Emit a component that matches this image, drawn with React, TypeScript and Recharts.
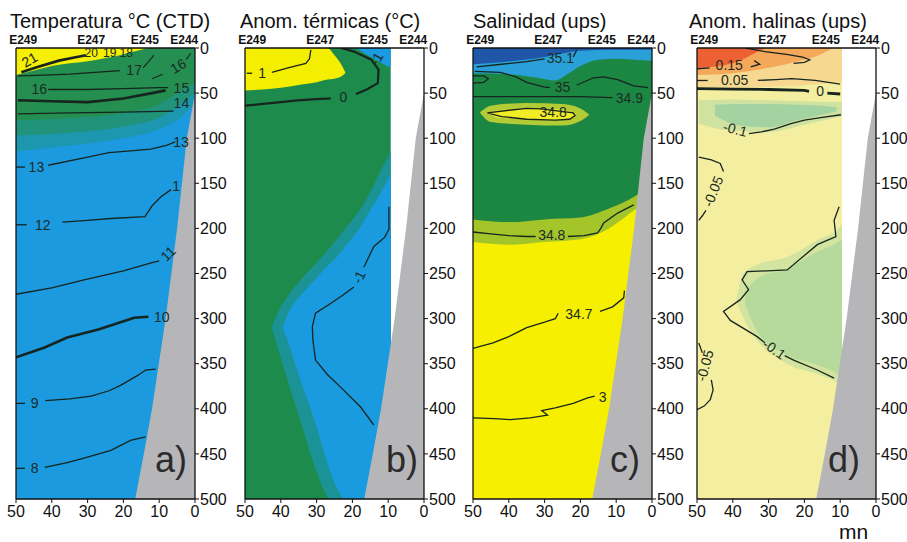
import React from 'react';
import { ComposedChart, Area, Line, Scatter, XAxis, YAxis } from 'recharts';

type Band = [number, number, number][]; // [distance, top depth, bottom depth]
type Pts = [number, number][]; // [distance, depth]
type Lbl = [number, number, string][]; // [distance, depth, text]

const DIST_TICKS = [50, 40, 30, 20, 10, 0];
const DEPTH_TICKS = [0, 50, 100, 150, 200, 250, 300, 350, 400, 450, 500];
const STATION_D = [48, 29, 14, 3];
const STATION_NAMES = ['E249', 'E247', 'E245', 'E244'];

// slope / bottom profile
const BATHY: Band = [[16.7, 500, 500], [14.3, 450, 500], [12, 400, 500], [8.2, 300, 500], [5, 200, 500], [2.3, 100, 500], [0, 50, 500]];

// ---- a) temperature
const A_BASE: Band = [[50, 0, 500], [0, 0, 500]];
const A_TEAL2: Band = [[50, 0, 115], [35, 0, 108], [20, 0, 100], [10, 0, 90], [5, 0, 80], [0, 0, 62]];
const A_TEAL1: Band = [[50, 0, 97], [35, 0, 94], [20, 0, 87], [10, 0, 77], [5, 0, 65], [0, 0, 50]];
const A_GREEN: Band = [[50, 0, 80], [35, 0, 78], [20, 0, 72], [10, 0, 62], [5, 0, 50], [0, 0, 38]];
const A_YELLOW: Band = [[50, 0, 30], [45, 0, 25], [40, 0, 20], [35, 0, 17], [29, 0, 14], [25, 0, 11], [21, 0, 8], [17, 0, 4], [13, 0, 0]];
const A_C20: Pts = [[48.5, 27], [44, 21], [38, 14], [33, 10], [30.5, 8]];
const A_C17: Pts = [[49.5, 31], [42, 30], [35, 29], [28, 27], [21, 25]];
const A_C18: Pts = [[14.5, 22], [12.5, 13], [11.5, 8]];
const A_C16R1: Pts = [[12, 34], [9, 29]];
const A_C16R2: Pts = [[2.5, 13], [1.2, 6]];
const A_C16: Pts = [[41, 46], [30, 46], [20, 45], [10, 44], [7.5, 44]];
const A_C15: Pts = [[49.5, 58], [40, 59], [30, 60], [20, 56], [12, 50], [8.2, 47]];
const A_C14: Pts = [[49.5, 73], [35, 72], [20, 71], [6, 70]];
const A_C13L: Pts = [[50, 132], [47.5, 132]];
const A_C13: Pts = [[41, 130], [30, 121], [24, 116], [18, 114], [12.4, 112], [8, 108], [5.5, 104]];
const A_C12L: Pts = [[50, 196], [47, 196]];
const A_C12: Pts = [[37, 193], [30, 191], [23.5, 189], [14, 187], [12, 175], [9.5, 165], [6.7, 157]];
const A_C11: Pts = [[50, 273], [40, 266], [31, 257], [20, 247], [12, 238], [10, 236]];
const A_C10: Pts = [[50, 343], [42, 332], [35.7, 321], [27, 312], [20.8, 304], [17, 299], [13, 298]];
const A_C9L: Pts = [[50, 394], [47.5, 394]];
const A_C9: Pts = [[41.8, 391], [35, 389], [29, 386], [24, 380], [20.8, 374], [16, 363], [13.8, 357], [11, 356]];
const A_C8L: Pts = [[50, 466], [47.5, 466]];
const A_C8: Pts = [[42, 465], [36, 460], [30.5, 454], [23.5, 446], [18, 435], [13.8, 431]];
const A_LABELS: Lbl = [
  [46.2, 13, '21'], [29, 5, '20'], [23.8, 6, '19'], [19.2, 5, '18'], [17, 24, '17'], [4.7, 20, '16'],
  [43.5, 45, '16'], [3.8, 44, '15'], [3.8, 61, '14'], [44.3, 132, '13'], [3.9, 104, '13'],
  [42.5, 196, '12'], [5.3, 153, '1'], [7.5, 228, '11'], [9.3, 298, '10'], [44.8, 394, '9'], [44.8, 466, '8'],
];
const A_TILTS = [-30, 0, 0, 0, 0, -30, 0, 0, 0, 0, 0, 0, 0, -45, 0, 0, 0];

// ---- b) thermal anomaly
const B_BASE: Band = [[50, 0, 500], [9.3, 0, 500]];
const B_TEAL: Band = [[42.5, 310, 310], [41, 295, 330], [38, 275, 370], [34, 255, 420], [30, 238, 470], [26, 220, 500], [22, 200, 500], [18, 180, 500], [15, 160, 500], [12, 135, 500], [9.3, 115, 500]];
const B_BLUE: Band = [[39.5, 310, 310], [38, 295, 325], [36, 282, 350], [33, 268, 385], [30, 255, 420], [27, 242, 460], [24, 230, 490], [22, 220, 500], [18, 200, 500], [15, 180, 500], [12, 160, 500], [9.3, 140, 500]];
const B_BLUE_TOP: Band = [[19, 0, 0], [17, 0, 5], [13, 0, 14], [9.3, 0, 22]];
const B_YELLOW: Band = [[50, 0, 47], [45, 0, 46], [40, 0, 44], [35, 0, 41], [30, 0, 38], [27, 0, 35], [25, 8, 34], [23.3, 17, 32], [22, 27, 28]];
const B_C1L: Pts = [[49.5, 28], [48, 28]];
const B_C1: Pts = [[42.5, 27], [38, 22], [33, 17], [32, 12], [31.6, 2]];
const B_C0A: Pts = [[50, 64], [45, 62], [40, 60], [35.4, 58], [29, 56.5], [26, 56]];
const B_C0B: Pts = [[19, 51], [16, 46], [12.9, 39], [12.7, 24], [14.7, 13], [19.5, 4], [23.2, 0]];
const B_CM1A: Pts = [[9.8, 176], [9.8, 201], [11, 210], [14, 220], [16.8, 243]];
const B_CM1B: Pts = [[19.6, 265], [23, 275], [26, 283], [30.3, 294], [31.2, 309], [31, 325], [30.3, 346], [27, 362], [23.3, 376], [17.7, 398], [14, 418]];
const B_LABELS: Lbl = [[45.2, 28, '1'], [22.5, 54, '0'], [13.3, 12, '-1'], [18.2, 254, '-1']];
const B_TILTS = [0, 0, -60, -65];

// ---- c) salinity
const C_BASE: Band = [[50, 0, 500], [0, 0, 500]];
const C_YG: Band = [[50, 0, 215], [40, 0, 218], [30, 0, 215], [20, 0, 212], [12, 0, 200], [5, 0, 180], [0, 0, 165]];
const C_GREEN: Band = [[50, 0, 190], [40, 0, 193], [30, 0, 190], [20, 0, 188], [12, 0, 178], [5, 0, 165], [0, 0, 150]];
const C_LBLUE: Band = [[50, 0, 28], [40, 0, 29], [32, 0, 33], [27, 0, 36], [24, 0, 30], [20, 0, 20], [15, 0, 13], [10, 0, 12], [5, 0, 13], [0, 0, 14]];
const C_DBLUE: Band = [[50, 0, 18], [40, 0, 15], [30, 0, 10], [25, 0, 6], [20, 0, 3], [10, 0, 2], [0, 0, 2]];
const C_BLOB_RIM: Band = [[48, 71, 72], [45, 64, 82], [35, 61, 85], [25, 62, 86], [20, 67, 81], [17.5, 74, 74]];
const C_BLOB: Band = [[45.8, 72, 72], [43, 69, 77], [35, 67, 79], [27, 68, 80], [22.5, 71, 78], [21.5, 75, 75]];
const C_C351: Pts = [[49, 21], [42, 18], [35, 15], [30, 12]];
const C_C351B: Pts = [[22, 10], [21, 2]];
const C_C35A: Pts = [[49.5, 26], [42.4, 27], [38, 32], [35, 38], [30.3, 43], [28.5, 44]];
const C_C35B: Pts = [[21, 41], [16.3, 33], [13.5, 32], [9.6, 35], [5.1, 42], [1.1, 44]];
const C_C35LOOP: Pts = [[50, 31], [47, 31], [45.7, 34], [47, 38], [50, 39]];
const C_C349: Pts = [[50, 54], [40, 54], [30, 54], [20, 54], [11, 55]];
const C_C348LOOP: Pts = [[46, 72], [40, 69], [35, 67], [31, 67.5], [22, 72], [21.5, 75], [23, 79], [27, 80], [35, 79], [42, 76], [46, 72]];
const C_C348A: Pts = [[50, 204], [45, 206], [40, 208], [35, 209], [32.5, 209]];
const C_C348B: Pts = [[23.5, 209], [19, 208], [15.2, 205], [14.3, 200], [13.5, 194], [9.6, 183], [5.1, 174]];
const C_C347A: Pts = [[50, 333], [44.4, 327], [40, 320], [35, 310], [30, 304], [27, 300], [26.2, 294]];
const C_C347B: Pts = [[14.5, 292], [11, 287], [7.9, 277], [7.7, 269]];
const C_C346: Pts = [[50, 410], [44, 411], [39.6, 412], [34, 410], [29.2, 407], [30.8, 402], [27, 399], [22, 394], [18, 388], [16, 386]];
const C_LABELS: Lbl = [[25.6, 11, '35.1'], [25, 43, '35'], [6.3, 55, '34.9'], [27.6, 71, '34.8'], [28, 207, '34.8'], [20.4, 295, '34.7'], [13.8, 387, '3']];
const C_TILTS = [0, 0, 0, 0, 0, 0, 0];

// ---- d) haline anomaly
const D_BASE: Band = [[50, 0, 500], [9.5, 0, 500]];
const D_PEACH: Band = [[50, 0, 44], [30, 0, 43], [15, 0, 40], [9.5, 0, 38]];
const D_ORANGE: Band = [[50, 0, 30], [40, 0, 28], [30, 0, 22], [22, 0, 15], [16, 0, 8], [12, 0, 0]];
const D_RED: Band = [[50, 0, 22], [44, 0, 20], [38, 0, 14], [34, 0, 6], [31, 0, 0]];
const D_GREEN_RIM: Band = [[49.5, 58, 84], [40, 57, 92], [30, 58, 93], [20, 59, 85], [12, 60, 78], [9.5, 60, 76]];
const D_GREEN: Band = [[45, 63, 75], [38, 62, 86], [30, 62, 88], [22, 63, 80], [15, 64, 74], [11, 66, 70]];
const D_GREEN2_RIM: Band = [[39, 280, 280], [37, 250, 300], [33, 240, 325], [25, 232, 350], [16, 212, 362], [10.5, 200, 372], [9.5, 195, 375]];
const D_GREEN2: Band = [[36.5, 270, 285], [33, 255, 315], [25, 245, 340], [16, 225, 352], [10.5, 215, 362], [9.5, 212, 365]];
const D_C015L: Pts = [[50, 23], [46.5, 22]];
const D_C015: Pts = [[35, 21], [32.5, 18], [34, 14]];
const D_C010: Pts = [[36.5, 0], [31, 4], [25, 7], [20.5, 10], [18.5, 13], [20, 16], [23, 17]];
const D_C005L: Pts = [[50, 36], [47, 36]];
const D_C005: Pts = [[33, 36], [28, 35], [23.6, 34], [17, 36], [10, 40]];
const D_C0: Pts = [[50, 45], [40, 45.5], [30, 46], [20, 47], [18.7, 48]];
const D_C0B: Pts = [[13.6, 50], [10, 51]];
const D_CM01A: Pts = [[35.5, 95], [32, 93], [28.4, 90], [24, 84], [20, 80], [15, 77], [9.8, 74]];
const D_CM005A: Pts = [[49.5, 121], [46, 124], [43.5, 128], [42.6, 137]];
const D_CM005B: Pts = [[47.5, 180], [48.5, 186], [49.5, 191]];
const D_CM01B: Pts = [[10.3, 176], [11.7, 191], [11.2, 209], [16.4, 218], [24.8, 246], [36, 248], [37.4, 257], [35.6, 268], [37.9, 279], [42.6, 292], [40.7, 302], [33.2, 320], [31, 327]];
const D_CM01C: Pts = [[25.5, 341], [23, 346], [16.4, 357], [11.7, 366]];
const D_CM005C: Pts = [[49.5, 327], [48.5, 338]];
const D_CM005D: Pts = [[46, 368], [45.5, 379], [46.3, 390], [48, 397], [50, 401]];
const D_LABELS: Lbl = [[41, 19, '0.15'], [39.5, 36, '0.05'], [15.6, 48, '0'], [39.3, 90, '-0.1'], [45.5, 159, '-0.05'], [28.4, 334, '-0.1'], [47.8, 352, '-0.05']];
const D_TILTS = [0, 0, 0, 15, -68, 35, -75];

const LINE_COLOR = '#16251e';
const GRAY = '#b6b6b9';

interface PanelSpec {
  left: number;
  title: string;
  titleLeft: number;
  letter: string;
  letterLeft: number;
  bands: { data: Band; fill: string }[];
  lines: { data: Pts; w: number }[];
  labels: Lbl;
  tilts: number[];
}

const toBand = (b: Band) => b.map(([d, t, z]) => ({ d, r: [t, z] }));
const toPts = (p: Pts) => p.map(([d, z]) => ({ d, z }));

const labelShape = (p: any) => {
  const { cx, cy, payload } = p;
  return (
    <text
      x={cx}
      y={cy}
      textAnchor="middle"
      dominantBaseline="central"
      fontSize={payload.small ? 12 : 14}
      fill="#1b2b24"
      transform={payload.a ? `rotate(${payload.a} ${cx} ${cy})` : undefined}
    >
      {payload.t}
    </text>
  );
};

function Panel({ spec }: { spec: PanelSpec }) {
  const labelData = spec.labels.map(([d, z, t], i) => ({ d, z, t, a: spec.tilts[i] || 0, small: z < 10 }));
  return (
    <>
      <div style={{ position: 'absolute', left: spec.titleLeft, top: 11, fontSize: 20, lineHeight: '20px', whiteSpace: 'nowrap', color: '#111' }}>
        {spec.title}
      </div>
      <div style={{ position: 'absolute', left: spec.left, top: 0 }}>
        <ComposedChart width={228} height={542} margin={{ top: 34, right: 0, bottom: 13, left: 15 }}>
          {spec.bands.map((b, i) => (
            <Area
              key={`b${i}`}
              data={toBand(b.data)}
              dataKey="r"
              type="monotone"
              fill={b.fill}
              fillOpacity={1}
              stroke="none"
              isAnimationActive={false}
            />
          ))}
          <Area data={toBand(BATHY)} dataKey="r" type="linear" fill={GRAY} fillOpacity={1} stroke="none" isAnimationActive={false} />
          {spec.lines.map((l, i) => (
            <Line
              key={`l${i}`}
              data={toPts(l.data)}
              dataKey="z"
              type="linear"
              stroke={LINE_COLOR}
              strokeWidth={l.w}
              dot={false}
              activeDot={false}
              isAnimationActive={false}
            />
          ))}
          <Scatter data={labelData} dataKey="z" shape={labelShape} isAnimationActive={false} />
          <XAxis
            dataKey="d"
            type="number"
            domain={[0, 50]}
            reversed
            allowDataOverflow
            ticks={DIST_TICKS}
            height={30}
            tickSize={4}
            tickMargin={3}
            axisLine={{ stroke: '#111', strokeWidth: 1.3 }}
            tickLine={{ stroke: '#111' }}
            tick={{ fontSize: 16, fill: '#111' }}
          />
          <XAxis
            xAxisId="top"
            orientation="top"
            dataKey="d"
            type="number"
            domain={[0, 50]}
            reversed
            allowDataOverflow
            ticks={STATION_D}
            tickFormatter={(v: number) => STATION_NAMES[STATION_D.indexOf(v)]}
            height={14}
            tickSize={0}
            tickMargin={4}
            axisLine={{ stroke: '#111', strokeWidth: 1.5 }}
            tickLine={false}
            tick={{ fontSize: 12, fontWeight: 'bold', fill: '#111' }}
          />
          <YAxis
            yAxisId={0}
            orientation="right"
            type="number"
            domain={[0, 500]}
            reversed
            allowDataOverflow
            ticks={DEPTH_TICKS}
            width={33}
            tickSize={4}
            tickMargin={1}
            axisLine={{ stroke: '#111', strokeWidth: 1.3 }}
            tickLine={{ stroke: '#111' }}
            tick={{ fontSize: 16, fill: '#111' }}
          />
          <YAxis
            yAxisId="left"
            orientation="left"
            type="number"
            domain={[0, 500]}
            reversed
            width={1}
            tick={false}
            tickLine={false}
            axisLine={{ stroke: '#111', strokeWidth: 1.3 }}
          />
        </ComposedChart>
      </div>
      <div style={{ position: 'absolute', left: spec.letterLeft, top: 442, fontSize: 36, lineHeight: '36px', color: '#2b2b2b' }}>
        {spec.letter}
      </div>
    </>
  );
}

const PANELS: PanelSpec[] = [
  {
    left: 0, title: 'Temperatura °C (CTD)', titleLeft: 10, letter: 'a)', letterLeft: 155,
    bands: [
      { data: A_BASE, fill: '#1b9ae0' },
      { data: A_TEAL2, fill: '#1d97b0' },
      { data: A_TEAL1, fill: '#20937a' },
      { data: A_GREEN, fill: '#248f50' },
      { data: A_YELLOW, fill: '#f5ee05' },
    ],
    lines: [
      { data: A_C20, w: 2.6 }, { data: A_C17, w: 1.3 }, { data: A_C18, w: 1.1 }, { data: A_C16R1, w: 1.1 },
      { data: A_C16R2, w: 1.1 }, { data: A_C16, w: 1.3 }, { data: A_C15, w: 2.6 }, { data: A_C14, w: 1.3 },
      { data: A_C13L, w: 1.3 }, { data: A_C13, w: 1.3 }, { data: A_C12L, w: 1.3 }, { data: A_C12, w: 1.3 },
      { data: A_C11, w: 1.3 }, { data: A_C10, w: 2.6 }, { data: A_C9L, w: 1.3 }, { data: A_C9, w: 1.3 },
      { data: A_C8L, w: 1.3 }, { data: A_C8, w: 1.3 },
    ],
    labels: A_LABELS, tilts: A_TILTS,
  },
  {
    left: 229, title: 'Anom. térmicas (°C)', titleLeft: 240, letter: 'b)', letterLeft: 386,
    bands: [
      { data: B_BASE, fill: '#1d8b4b' },
      { data: B_TEAL, fill: '#1b9396' },
      { data: B_BLUE, fill: '#1a9be0' },
      { data: B_BLUE_TOP, fill: '#1a9be0' },
      { data: B_YELLOW, fill: '#f4ee00' },
    ],
    lines: [
      { data: B_C1L, w: 1.3 }, { data: B_C1, w: 1.3 }, { data: B_C0A, w: 2.2 }, { data: B_C0B, w: 2.2 },
      { data: B_CM1A, w: 1.3 }, { data: B_CM1B, w: 1.3 },
    ],
    labels: B_LABELS, tilts: B_TILTS,
  },
  {
    left: 457, title: 'Salinidad (ups)', titleLeft: 473, letter: 'c)', letterLeft: 610,
    bands: [
      { data: C_BASE, fill: '#f6f000' },
      { data: C_YG, fill: '#a4c52a' },
      { data: C_GREEN, fill: '#1b8743' },
      { data: C_LBLUE, fill: '#2aa0d8' },
      { data: C_DBLUE, fill: '#1f56a8' },
      { data: C_BLOB_RIM, fill: '#b3cb35' },
      { data: C_BLOB, fill: '#f2ec25' },
    ],
    lines: [
      { data: C_C351, w: 1.3 }, { data: C_C351B, w: 1.3 }, { data: C_C35A, w: 1.3 }, { data: C_C35B, w: 1.3 },
      { data: C_C35LOOP, w: 1.3 }, { data: C_C349, w: 1.3 }, { data: C_C348LOOP, w: 1.3 }, { data: C_C348A, w: 1.3 },
      { data: C_C348B, w: 1.3 }, { data: C_C347A, w: 1.3 }, { data: C_C347B, w: 1.3 }, { data: C_C346, w: 1.3 },
    ],
    labels: C_LABELS, tilts: C_TILTS,
  },
  {
    left: 681, title: 'Anom. halinas (ups)', titleLeft: 689, letter: 'd)', letterLeft: 828,
    bands: [
      { data: D_BASE, fill: '#f4efa0' },
      { data: D_PEACH, fill: '#f7d890' },
      { data: D_ORANGE, fill: '#f4a85a' },
      { data: D_RED, fill: '#ec6034' },
      { data: D_GREEN_RIM, fill: '#cfe2a0' },
      { data: D_GREEN, fill: '#a3d3a0' },
      { data: D_GREEN2_RIM, fill: '#d2e4a0' },
      { data: D_GREEN2, fill: '#b6da9c' },
    ],
    lines: [
      { data: D_C015L, w: 1.3 }, { data: D_C015, w: 1.3 }, { data: D_C010, w: 1.3 }, { data: D_C005L, w: 1.3 },
      { data: D_C005, w: 1.3 }, { data: D_C0, w: 2.8 }, { data: D_C0B, w: 2.8 }, { data: D_CM01A, w: 1.3 },
      { data: D_CM005A, w: 1.3 }, { data: D_CM005B, w: 1.3 }, { data: D_CM01B, w: 1.3 }, { data: D_CM01C, w: 1.3 },
      { data: D_CM005C, w: 1.3 }, { data: D_CM005D, w: 1.3 },
    ],
    labels: D_LABELS, tilts: D_TILTS,
  },
];

export default function App() {
  return (
    <div
      style={{
        position: 'absolute',
        left: 0,
        top: 0,
        width: 907,
        height: 542,
        overflow: 'hidden',
        background: '#fff',
        fontFamily: '"Liberation Sans", Arial, sans-serif',
      }}
    >
      {PANELS.map((p) => (
        <Panel key={p.title} spec={p} />
      ))}
      <div style={{ position: 'absolute', left: 839, top: 523, fontSize: 21, lineHeight: '17px', color: '#111' }}>mn</div>
    </div>
  );
}
